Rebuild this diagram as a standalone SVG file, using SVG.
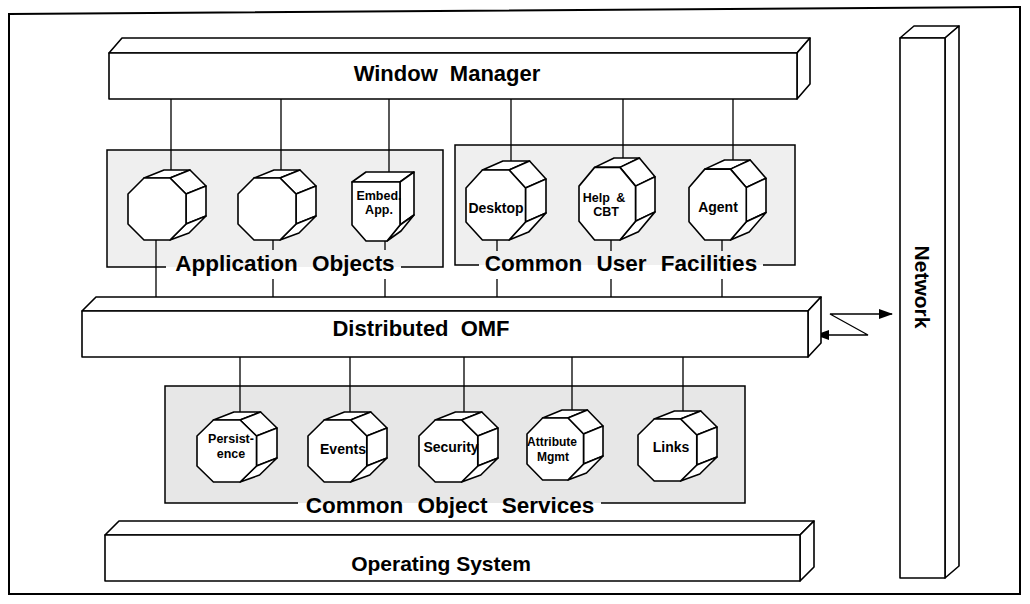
<svg xmlns="http://www.w3.org/2000/svg" xmlns:xlink="http://www.w3.org/1999/xlink" width="1030" height="604" viewBox="0 0 1030 604">
<style>
.frame{fill:none;stroke:#000;stroke-width:2}
.bar{fill:#fff;stroke:#000;stroke-width:1.6;stroke-linejoin:round}
.gfill{fill:#efefef;stroke:none}
.gfill2{fill:#e7e7e7;stroke:none}
.gedge{fill:none;stroke:#000;stroke-width:1.5}
.ln{fill:none;stroke:#000;stroke-width:1.3}
.oc{fill:#fff;stroke:#000;stroke-width:1.6;stroke-linejoin:round}
.t{font-family:"Liberation Sans",Arial,sans-serif;font-weight:bold;fill:#000}
.big{font-size:22.5px;word-spacing:8px}
.bl{font-size:22px;word-spacing:6px}
.sm{font-size:14px}
.xs{font-size:12.5px}
</style>
<defs>
<symbol id="oct" viewBox="0 0 78 70" preserveAspectRatio="none" overflow="visible">
<path class="oc" vector-effect="non-scaling-stroke" d="M16,8 L36,0 L62,0 L42,8 Z"/>
<path class="oc" vector-effect="non-scaling-stroke" d="M42,8 L62,0 L78,16 L58,24 Z"/>
<path class="oc" vector-effect="non-scaling-stroke" d="M58,24 L78,16 L78,46 L58,54 Z"/>
<path class="oc" vector-effect="non-scaling-stroke" d="M58,54 L78,46 L61,63 L42,70 Z"/>
<path class="oc" vector-effect="non-scaling-stroke" d="M16,8 L42,8 L58,24 L58,54 L42,70 L16,70 L0,54 L0,24 Z"/>
</symbol>
<marker id="ah" viewBox="0 0 14 10" refX="13" refY="5" markerWidth="14" markerHeight="10" markerUnits="userSpaceOnUse" orient="auto-start-reverse">
<path d="M0,0 L14,5 L0,10 Z" fill="#000"/>
</marker>
</defs>

<rect x="0" y="0" width="1030" height="604" fill="#fff"/>
<path class="frame" d="M9,14 L1020,7 L1020,594 L9,594 Z"/>

<!-- group boxes -->
<g id="grp-application-objects">
<rect class="gfill" x="107" y="150" width="336" height="117"/>
<path class="gedge" d="M166,267 L107,267 L107,150 L443,150 L443,267 L401,267"/>
<text class="t big" x="285" y="271" text-anchor="middle">Application Objects</text>
</g>
<g id="grp-common-user-facilities">
<rect class="gfill" x="455" y="145" width="340" height="120"/>
<path class="gedge" d="M479,265 L455,265 L455,145 L795,145 L795,265 L763,265"/>
<text class="t big" x="621" y="271" text-anchor="middle">Common User Facilities</text>
</g>
<g id="grp-common-object-services">
<rect class="gfill2" x="165" y="386" width="580" height="117"/>
<path class="gedge" d="M298,503 L165,503 L165,386 L745,386 L745,503 L601,503"/>
<text class="t big" x="450" y="513" text-anchor="middle">Common Object Services</text>
</g>

<!-- connectors -->
<g id="connectors">
<path class="ln" d="M171,99 V170 M281,99 V170 M389,99 V172 M511,99 V161 M623,99 V158 M733,99 V160"/>
<path class="ln" d="M156,240 V303 M273,240 V250 M273,279 V303 M385,241 V250 M385,279 V303 M497,240 V251 M497,279 V303 M611,240 V251 M611,279 V303 M722,240 V251 M722,279 V303"/>
<path class="ln" d="M240,357 V412 M350,357 V412 M464,357 V412 M572,357 V410 M683,357 V411"/>
<path class="ln" d="M816,335 L868,335 L830,314 L892,314" marker-start="url(#ah)" marker-end="url(#ah)"/>
</g>

<!-- bars -->
<g id="window-manager">
<path class="bar" d="M109,53 L122,38 L810,38 L797,53 Z"/>
<path class="bar" d="M797,53 L810,38 L810,84 L797,99 Z"/>
<rect class="bar" x="109" y="53" width="688" height="46"/>
<text class="t bl" x="447" y="81" text-anchor="middle">Window Manager</text>
</g>
<g id="distributed-omf">
<path class="bar" d="M82,311 L96,297 L821,297 L808,311 Z"/>
<path class="bar" d="M808,311 L821,297 L821,343 L808,357 Z"/>
<rect class="bar" x="82" y="311" width="726" height="46"/>
<text class="t bl" x="421" y="336" text-anchor="middle">Distributed OMF</text>
</g>
<g id="operating-system">
<path class="bar" d="M105,535 L119,521 L814,521 L800,535 Z"/>
<path class="bar" d="M800,535 L814,521 L814,567 L800,581 Z"/>
<rect class="bar" x="105" y="535" width="695" height="46"/>
<text class="t" x="441" y="571" font-size="21" text-anchor="middle">Operating System</text>
</g>
<g id="network">
<path class="bar" d="M900,38 L914,26 L959,26 L945,38 Z"/>
<path class="bar" d="M945,38 L959,26 L959,566 L945,578 Z"/>
<rect class="bar" x="900" y="38" width="45" height="540"/>
<text class="t" x="0" y="0" font-size="21" text-anchor="middle" transform="translate(915,287) rotate(90)">Network</text>
</g>

<!-- application objects -->
<g id="app-object-1"><use xlink:href="#oct" href="#oct" x="128" y="170" width="78" height="70"/></g>
<g id="app-object-2"><use xlink:href="#oct" href="#oct" x="238" y="170" width="78" height="70"/></g>
<g id="embed-app">
<path class="oc" d="M352,182 L366,172 L414,172 L400,182 Z"/>
<path class="oc" d="M400,182 L414,172 L414,215 L400,225 Z"/>
<path class="oc" d="M400,225 L414,215 L401,231 L387,241 Z"/>
<path class="oc" d="M352,182 L400,182 L400,225 L387,241 L366,241 L352,225 Z"/>
<text class="t xs" x="379" y="200" text-anchor="middle">Embed.</text>
<text class="t xs" x="379" y="214" text-anchor="middle">App.</text>
</g>

<!-- common user facilities -->
<g id="desktop"><use xlink:href="#oct" href="#oct" x="466" y="161" width="80" height="79"/>
<text class="t sm" x="496" y="213" text-anchor="middle">Desktop</text></g>
<g id="help-cbt"><use xlink:href="#oct" href="#oct" x="579" y="158" width="76" height="82"/>
<text class="t xs" x="604" y="202" text-anchor="middle" word-spacing="3">Help &amp;</text>
<text class="t xs" x="606" y="216" text-anchor="middle">CBT</text></g>
<g id="agent"><use xlink:href="#oct" href="#oct" x="689" y="160" width="77" height="80"/>
<text class="t sm" x="718" y="212" text-anchor="middle">Agent</text></g>

<!-- common object services -->
<g id="persistence"><use xlink:href="#oct" href="#oct" x="197" y="412" width="80" height="70"/>
<text class="t xs" x="231" y="443" text-anchor="middle">Persist-</text>
<text class="t xs" x="231" y="458" text-anchor="middle">ence</text></g>
<g id="events"><use xlink:href="#oct" href="#oct" x="308" y="412" width="79" height="70"/>
<text class="t sm" x="343" y="454" text-anchor="middle">Events</text></g>
<g id="security"><use xlink:href="#oct" href="#oct" x="419" y="412" width="79" height="70"/>
<text class="t sm" x="451" y="452" text-anchor="middle">Security</text></g>
<g id="attribute-mgmt"><use xlink:href="#oct" href="#oct" x="527" y="410" width="76" height="70"/>
<text class="t" x="552" y="446" font-size="12" text-anchor="middle">Attribute</text>
<text class="t" x="553" y="461" font-size="12" text-anchor="middle">Mgmt</text></g>
<g id="links"><use xlink:href="#oct" href="#oct" x="638" y="411" width="79" height="70"/>
<text class="t sm" x="671" y="452" text-anchor="middle">Links</text></g>
</svg>
